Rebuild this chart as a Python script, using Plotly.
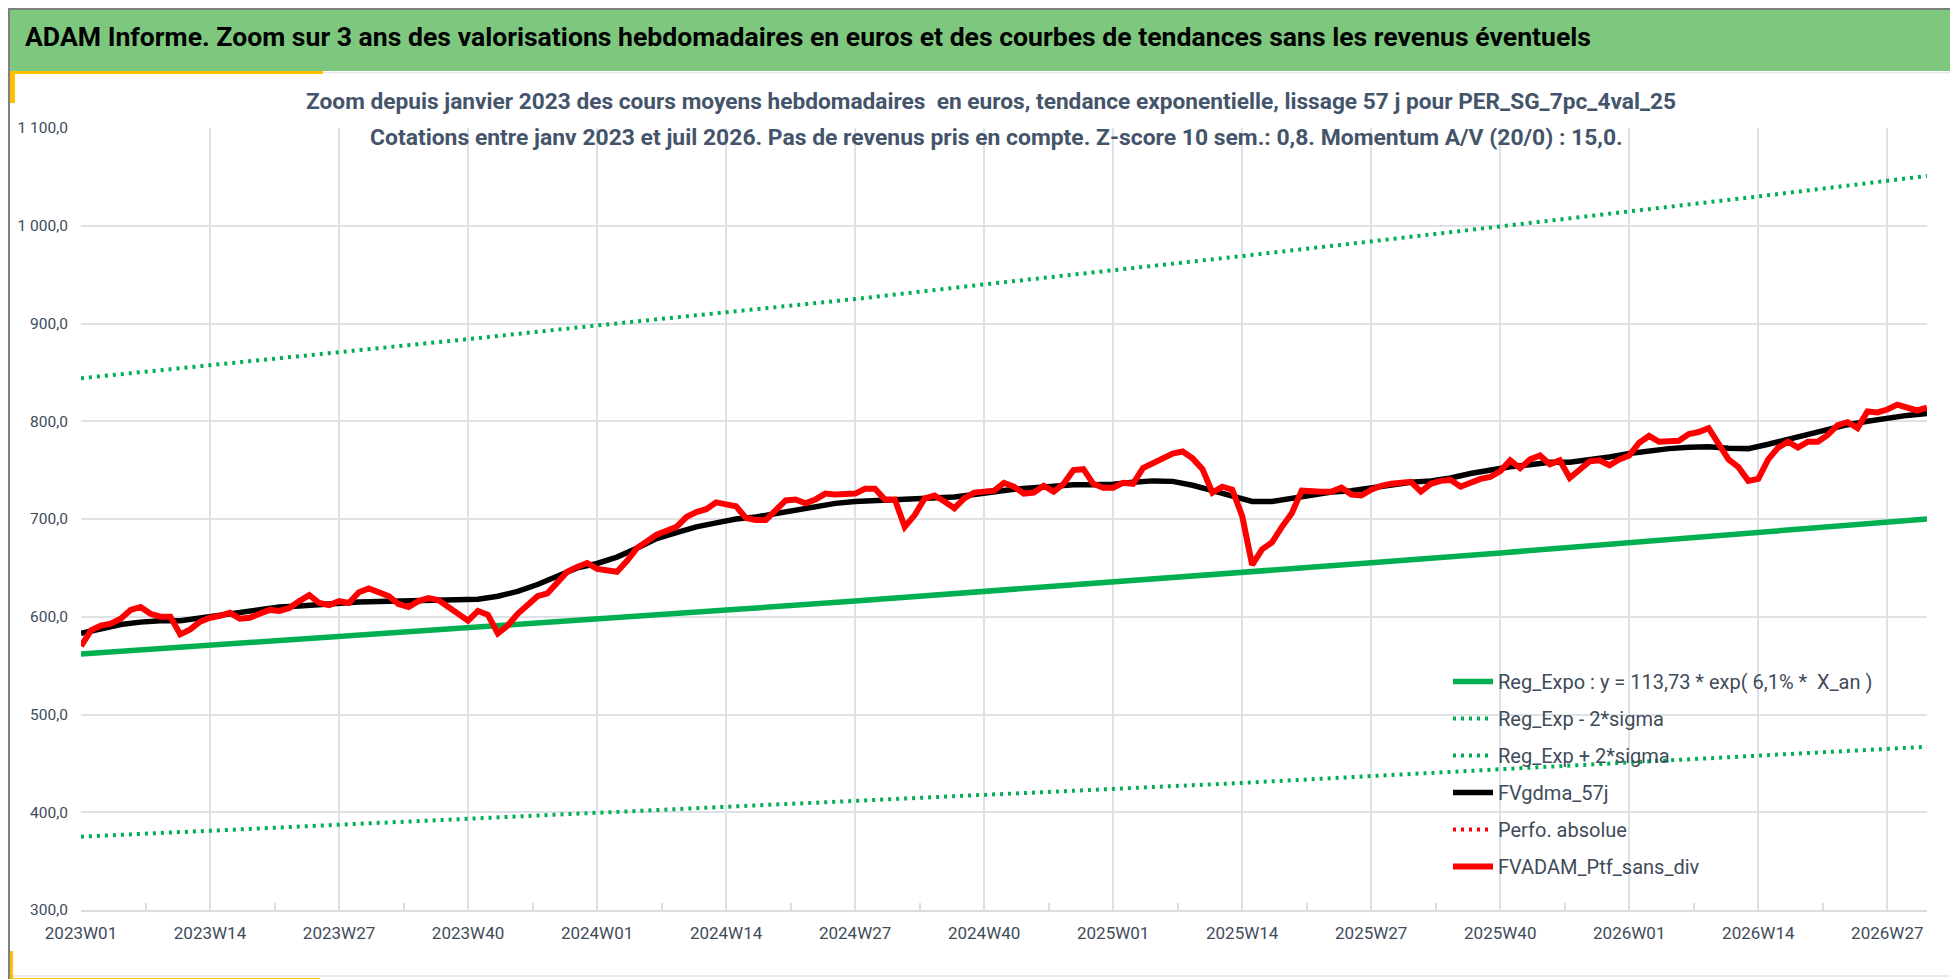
import plotly.graph_objects as go

# ---------------- data ----------------
weeks = []
for year, nweeks in [(2023, 52), (2024, 52), (2025, 52), (2026, 31)]:
    for w in range(1, nweeks + 1):
        weeks.append(f"{year}W{w:02d}")

tick_labels = ["2023W01", "2023W14", "2023W27", "2023W40", "2024W01", "2024W14",
               "2024W27", "2024W40", "2025W01", "2025W14", "2025W27", "2025W40",
               "2026W01", "2026W14", "2026W27"]

y_tick_vals = [300, 400, 500, 600, 700, 800, 900, 1000, 1100]
y_tick_text = ["300,0", "400,0", "500,0", "600,0", "700,0", "800,0", "900,0",
               "1 000,0", "1 100,0"]

# FVADAM_Ptf_sans_div (weekly)
red_values = [
    570, 586, 591, 593, 598, 607, 610, 603, 600, 600,
    582, 587, 595, 599, 601, 604, 598, 599, 603, 607,
    606, 609, 616, 622, 614, 612, 616, 614, 625, 629,
    625, 621, 613, 610, 616, 619, 617, 610, 602, 596,
    606, 602, 583, 591, 603, 613, 621, 624, 635, 646,
    651, 655, 649, 648, 646, 657, 670, 677, 684, 688,
    692, 702, 707, 710, 717, 715, 713, 701, 699, 699,
    710, 719, 720, 716, 720, 726, 725, 726, 726, 731,
    731, 720, 720, 692, 704, 721, 724, 718, 711, 721,
    727, 728, 729, 737, 733, 726, 727, 734, 728, 736,
    750, 751, 736, 732, 732, 737, 736, 752, 757, 761,
    767, 769, 762, 751, 727, 733, 730, 703, 653, 669,
    676, 692, 706, 729, 728, 728, 728, 732, 725, 724,
    730, 734, 736, 737, 738, 728, 736, 739, 740, 733,
    737, 741, 743, 749, 760, 752, 761, 765, 756, 760,
    742, 750, 759, 760, 755, 761, 765, 778, 785, 779,
    779, 780, 787, 789, 793, 777, 761, 753, 739, 741,
    761, 773, 779, 773, 779, 779, 786, 796, 799, 793,
    810, 809, 812, 817, 814, 811, 814,
]

# FVgdma_57j (read every second week)
black_weeks = weeks[::2]
black_values = [
    583, 588, 592, 594.5, 596, 596, 599, 602, 604.5, 607,
    610, 611, 612.5, 614, 615, 615.5, 616, 616.5, 616.5, 617,
    618, 621, 626, 633, 642, 650, 654.5, 661, 670, 680,
    686, 692, 696, 700, 702, 705.5, 709.5, 713, 716, 718,
    719, 719, 720, 721, 722.5, 725, 728, 730.5, 732, 733.5,
    735, 735, 735.5, 737.5, 739, 738.5, 734.5, 729, 723.5, 718,
    718, 721.5, 725, 727.5, 729, 732, 735, 737.5, 739, 742,
    746.5, 750, 753.5, 755.5, 758, 758, 760.5, 763.5, 767, 770,
    772, 773.5, 774, 772.5, 772, 776.5, 781.5, 786, 791.5, 796.5,
    800, 803.5, 806, 808,
]

# Regression curves read at the labelled weeks and at the last week
reg_weeks = tick_labels + [weeks[-1]]
reg_mid = [562, 570.7, 579.5, 588.5, 597.6, 606.8, 616.2, 625.7, 635.4, 645.2,
           655.2, 665.3, 675.6, 686.0, 696.7, 700.0]
reg_up = [844, 857, 870, 884, 898, 911, 925, 940, 954, 969, 984, 999, 1015,
          1030, 1046, 1051]
reg_low = [375, 381, 387, 393, 399, 405, 411, 417, 424, 430, 437, 444, 451,
           458, 465, 467]

# ---------------- figure ----------------
pos = {w: i for i, w in enumerate(weeks)}
W, H = 1958, 979
ML, MR, MT, MB = 73, 39, 120, 77
PW, PH = W - ML - MR, H - MT - MB


def px(xp):
    return (xp - ML) / PW


def py(yp):
    return 1 - (yp - MT) / PH


FONT = "Roboto, 'Open Sans', sans-serif"
GREEN = "#00B050"
GRID = "#DEE1E6"
TXT = "#404B5A"
DOT = "3px,5px"

fig = go.Figure()

fig.add_trace(go.Scatter(
    x=[pos[w] for w in reg_weeks], y=reg_mid, mode="lines",
    name="Reg_Expo : y = 113,73 * exp( 6,1% *  X_an )",
    line=dict(color=GREEN, width=5.5), legendgroup="a"))
fig.add_trace(go.Scatter(
    x=[pos[w] for w in reg_weeks], y=reg_low, mode="lines",
    name="Reg_Exp - 2*sigma",
    line=dict(color=GREEN, width=4, dash=DOT), legendgroup="b"))
fig.add_trace(go.Scatter(
    x=[pos[w] for w in reg_weeks], y=reg_up, mode="lines",
    name="Reg_Exp + 2*sigma",
    line=dict(color=GREEN, width=4, dash=DOT), legendgroup="c"))
fig.add_trace(go.Scatter(
    x=[pos[w] for w in black_weeks], y=black_values, mode="lines",
    name="FVgdma_57j", line=dict(color="#000000", width=5.5),
    legendgroup="d"))
fig.add_trace(go.Scatter(
    x=[0], y=[None], mode="lines", name="Perfo. absolue",
    line=dict(color="#FF0000", width=4, dash=DOT), legendgroup="e"))
fig.add_trace(go.Scatter(
    x=[pos[w] for w in weeks], y=red_values, mode="lines",
    name="FVADAM_Ptf_sans_div", line=dict(color="#FF0000", width=6),
    legendgroup="f"))

tick_pos = [pos[t] for t in tick_labels]
minor_pos = [p + 6.5 for p in tick_pos]

shapes = []
# title bar
shapes.append(dict(type="rect", xref="paper", yref="paper", x0=px(0), x1=px(W),
                   y0=py(63), y1=py(0), fillcolor="#7DC87E", line=dict(width=0),
                   layer="below"))
shapes.append(dict(type="line", xref="paper", yref="paper", x0=px(0), x1=px(W),
                   y0=py(64.5), y1=py(64.5), line=dict(color="#E3E6EA", width=1.5)))
# yellow accents
yellow = "#FFC000"
for (x0, y0, x1, y1, col) in [
    (0, 63, 315, 66, yellow), (0, 64, 7, 95, yellow), (1953, 65, 1958, 95, "#E8B828"),
    (0, 943, 5, 979, yellow), (0, 970, 312, 977, yellow),
    (834, 975, 947, 978, "#FFF59D"), (1170, 975, 1284, 978, "#FFF59D")]:
    shapes.append(dict(type="rect", xref="paper", yref="paper", x0=px(x0), x1=px(x1),
                       y0=py(y1), y1=py(y0), fillcolor=col, line=dict(width=0)))
# chart area bottom line
shapes.append(dict(type="line", xref="paper", yref="paper", x0=px(5), x1=px(1955),
                   y0=py(968), y1=py(968), line=dict(color="#E3E6EA", width=1.5)))
# outer frame
shapes.append(dict(type="rect", xref="paper", yref="paper", x0=px(1), x1=px(W - 1),
                   y0=py(H - 1), y1=py(1), line=dict(color="#808080", width=2)))

annotations = [
    dict(text="ADAM Informe. Zoom sur 3 ans des valorisations hebdomadaires en euros et des courbes de tendances sans les revenus éventuels",
         xref="paper", yref="paper", x=px(15), y=py(29), xanchor="left", yanchor="middle",
         showarrow=False, font=dict(family=FONT, size=26.6, color="#000000", weight=700)),
    dict(text="Zoom depuis janvier 2023 des cours moyens hebdomadaires  en euros, tendance exponentielle, lissage 57 j pour PER_SG_7pc_4val_25",
         xref="paper", yref="paper", x=px(983), y=py(94), xanchor="center", yanchor="middle",
         showarrow=False, font=dict(family=FONT, size=22.7, color="#44546A", weight=700)),
    dict(text="Cotations entre janv 2023 et juil 2026. Pas de revenus pris en compte. Z-score 10 sem.: 0,8. Momentum A/V (20/0) : 15,0.",
         xref="paper", yref="paper", x=px(988), y=py(129), xanchor="center", yanchor="middle",
         showarrow=False, font=dict(family=FONT, size=22.9, color="#44546A", weight=700)),
]

fig.update_layout(
    width=W, height=H,
    margin=dict(l=ML, r=MR, t=MT, b=MB, pad=0, autoexpand=False),
    paper_bgcolor="#FFFFFF", plot_bgcolor="#FFFFFF",
    font=dict(family=FONT, color=TXT),
    showlegend=True,
    legend=dict(x=px(1440), y=py(654), xanchor="left", yanchor="top",
                bgcolor="rgba(0,0,0,0)", borderwidth=0,
                font=dict(family=FONT, size=20, color="#404B5A"),
                tracegroupgap=8, traceorder="grouped", itemwidth=40),
    shapes=shapes, annotations=annotations,
    xaxis=dict(range=[0, len(weeks) - 1], tickmode="array", tickvals=tick_pos,
               ticktext=tick_labels, showgrid=True, gridcolor=GRID, gridwidth=1.5,
               zeroline=False, showline=True, linecolor="#D9DCE1", linewidth=2,
               ticks="", tickfont=dict(family=FONT, size=17, color=TXT),
               ticklabelstandoff=7,
               minor=dict(tickmode="array", tickvals=minor_pos, ticks="inside",
                          ticklen=7, tickcolor="#D9DCE1", tickwidth=1.5,
                          showgrid=False)),
    yaxis=dict(range=[300, 1100], tickmode="array", tickvals=y_tick_vals,
               ticktext=y_tick_text, showgrid=True, gridcolor=GRID, gridwidth=1.5,
               zeroline=False, showline=False, ticks="",
               tickfont=dict(family=FONT, size=15.5, color=TXT),
               ticklabelstandoff=12),
)

fig.write_html("out.html")
